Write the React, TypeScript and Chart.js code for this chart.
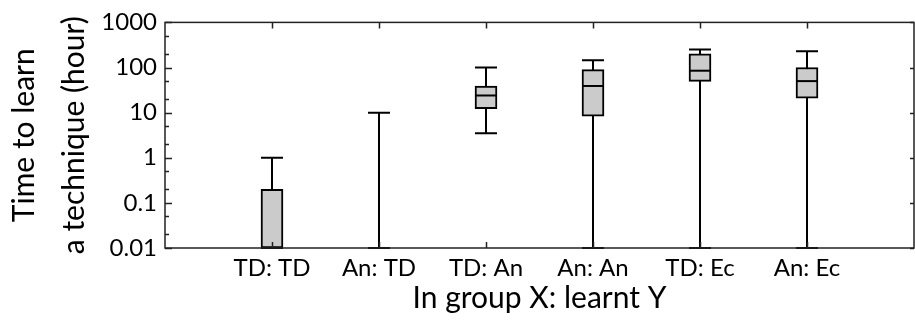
import React, { useEffect, useRef } from 'react';
import { Chart, registerables } from 'chart.js';

Chart.register(...registerables);

const CATEGORIES = ['TD: TD', 'An: TD', 'TD: An', 'An: An', 'TD: Ec', 'An: Ec'];
const WHISKER_LOW = [0.01, 0.01, 3.5, 0.01, 0.01, 0.01];
const Q1 = [0.01, 0.01, 12.3, 8.3, 49.5, 21];
const MEDIAN = [0.01, 0.01, 24, 39, 85, 50];
const Q3 = [0.2, 0.01, 39, 90, 200, 100];
const WHISKER_HIGH = [1, 10, 100, 145, 250, 230];

const Y_TICKS = [0.01, 0.1, 1, 10, 100, 1000];
const Y_TICK_LABELS = ['0.01', '0.1', '1', '10', '100', '1000'];
const Y_MINOR_MULT = [2, 5];
const X_TITLE = 'In group X: learnt Y';
const Y_TITLE = ['Time to learn', 'a technique (hour)'];

const BOX_WIDTH = 22;
const FONT = 'Lato';

const boxPlugin = {
  id: 'boxExtras',
  beforeDatasetsDraw(chart: any) {
    const { ctx, scales } = chart;
    const x = scales.x;
    const y = scales.y;
    ctx.save();
    ctx.strokeStyle = '#000';
    ctx.lineWidth = 2;
    CATEGORIES.forEach((_, i) => {
      const cx = Math.round(x.getPixelForValue(i + 1));
      const yl = y.getPixelForValue(WHISKER_LOW[i]);
      const yh = y.getPixelForValue(WHISKER_HIGH[i]);
      ctx.beginPath();
      ctx.moveTo(cx, yl);
      ctx.lineTo(cx, yh);
      ctx.moveTo(cx - BOX_WIDTH / 2, yl);
      ctx.lineTo(cx + BOX_WIDTH / 2, yl);
      ctx.moveTo(cx - BOX_WIDTH / 2, yh);
      ctx.lineTo(cx + BOX_WIDTH / 2, yh);
      ctx.stroke();
    });
    ctx.restore();
  },
  afterDatasetsDraw(chart: any) {
    const { ctx, scales } = chart;
    const x = scales.x;
    const y = scales.y;
    ctx.save();
    ctx.strokeStyle = '#000';
    ctx.lineWidth = 2;
    CATEGORIES.forEach((_, i) => {
      const cx = Math.round(x.getPixelForValue(i + 1));
      const ym = y.getPixelForValue(MEDIAN[i]);
      ctx.beginPath();
      ctx.moveTo(cx - BOX_WIDTH / 2, ym);
      ctx.lineTo(cx + BOX_WIDTH / 2, ym);
      ctx.stroke();
    });
    ctx.restore();
  },
  afterDraw(chart: any) {
    const { ctx, chartArea, scales } = chart;
    const { left, right, top, bottom } = chartArea;
    const x = scales.x;
    const y = scales.y;
    ctx.save();
    ctx.strokeStyle = '#222';
    ctx.lineWidth = 1.5;
    ctx.strokeRect(left, top, right - left, bottom - top);
    ctx.beginPath();
    CATEGORIES.forEach((_, i) => {
      const cx = Math.round(x.getPixelForValue(i + 1)) + 0.5;
      ctx.moveTo(cx, top);
      ctx.lineTo(cx, top + 6);
      ctx.moveTo(cx, bottom);
      ctx.lineTo(cx, bottom - 6);
    });
    Y_TICKS.forEach((v) => {
      const py = Math.round(y.getPixelForValue(v)) + 0.5;
      ctx.moveTo(left, py);
      ctx.lineTo(left + 7, py);
      ctx.moveTo(right, py);
      ctx.lineTo(right - 4, py);
    });
    Y_TICKS.slice(0, -1).forEach((v) => {
      Y_MINOR_MULT.forEach((m) => {
        const py = Math.round(y.getPixelForValue(v * m)) + 0.5;
        ctx.moveTo(left, py);
        ctx.lineTo(left + 4, py);
      });
    });
    ctx.stroke();
    ctx.restore();
  },
};

export default function App() {
  const canvasRef = useRef<HTMLCanvasElement | null>(null);

  useEffect(() => {
    if (!canvasRef.current) return;
    Chart.defaults.font.family = FONT;
    Chart.defaults.color = '#000';
    const chart = new Chart(canvasRef.current, {
      type: 'bar',
      data: {
        datasets: [
          {
            data: CATEGORIES.map((_, i) => ({ x: i + 1, y: [Q1[i], Q3[i]] })) as any,
            backgroundColor: '#cbcbcb',
            borderColor: '#000',
            borderWidth: 2,
            borderSkipped: false,
            barThickness: BOX_WIDTH,
          },
        ],
      },
      options: {
        animation: false,
        responsive: true,
        maintainAspectRatio: false,
        layout: { padding: { top: 22, right: 1, left: 0, bottom: 0 } },
        plugins: { legend: { display: false }, tooltip: { enabled: false } },
        scales: {
          x: {
            type: 'linear',
            min: 0,
            max: 7,
            offset: false,
            grid: { display: false, drawTicks: false },
            border: { display: false },
            afterBuildTicks: (scale: any) => {
              scale.ticks = CATEGORIES.map((_, i) => ({ value: i + 1 }));
            },
            afterFit: (scale: any) => {
              scale.height = 72;
            },
            ticks: {
              autoSkip: false,
              maxRotation: 0,
              padding: 6,
              font: { size: 24 },
              callback: (v: any) => CATEGORIES[Number(v) - 1] ?? '',
            },
            title: {
              display: true,
              text: X_TITLE,
              font: { size: 30 },
              padding: { top: 0, bottom: 4 },
            },
          },
          y: {
            type: 'logarithmic',
            min: 0.01,
            max: 1000,
            grid: { display: false, drawTicks: false },
            border: { display: false },
            afterBuildTicks: (scale: any) => {
              scale.ticks = Y_TICKS.map((v) => ({ value: v }));
            },
            afterFit: (scale: any) => {
              scale.width = 165;
            },
            ticks: {
              padding: 8,
              font: { size: 24 },
              callback: (v: any) => {
                const idx = Y_TICKS.findIndex((t) => Math.abs(t - Number(v)) / t < 1e-6);
                return idx >= 0 ? Y_TICK_LABELS[idx] : '';
              },
            },
            title: {
              display: true,
              text: Y_TITLE,
              font: { size: 30, lineHeight: 1.65 },
              padding: { top: 0, bottom: 0 },
            },
          },
        },
      },
      plugins: [boxPlugin],
    });
    return () => chart.destroy();
  }, []);

  return (
    <div style={{ position: 'fixed', left: 0, top: 0, width: 915, height: 320 }}>
      <canvas ref={canvasRef} />
    </div>
  );
}
